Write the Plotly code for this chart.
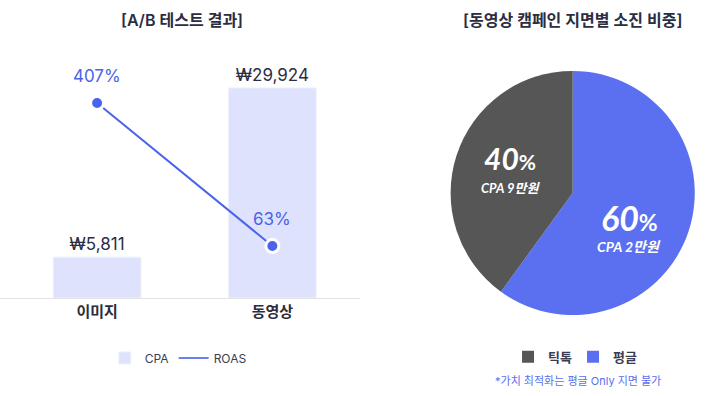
import plotly.graph_objects as go

categories = ["이미지", "동영상"]
cpa_values = [5811, 29924]
roas_values = [407, 63]
pie_labels = ["틱톡", "평글"]
pie_values = [40, 60]
pie_cpa = ["CPA 9만원", "CPA 2만원"]
pie_colors = ["#565656", "#5b70f0"]

FONT = "Inter, Noto Sans CJK KR, sans-serif"
DARK = "#2b2d42"
BLUE = "#4a63ea"

fig = go.Figure()

fig.add_trace(go.Bar(
    x=categories, y=cpa_values, name="CPA",
    marker=dict(color="#dfe2fc", line=dict(color="#eef0fe", width=1)),
    width=0.5,
    text=[f"₩{v:,}" for v in cpa_values], textposition="outside",
    textfont=dict(size=17, color=DARK, family=FONT),
    cliponaxis=False, legend="legend",
))

fig.add_trace(go.Scatter(
    x=categories, y=roas_values, name="ROAS", yaxis="y2",
    mode="lines+markers",
    line=dict(color=BLUE, width=2),
    marker=dict(size=13, color=BLUE, line=dict(color="white", width=3)),
    cliponaxis=False, showlegend=False,
))
# legend-only line entry for ROAS
fig.add_trace(go.Scatter(
    x=[None], y=[None], name="ROAS", yaxis="y2", mode="lines",
    line=dict(color="#6b7ff5", width=2), legend="legend",
))

for c, v in zip(categories, roas_values):
    fig.add_annotation(x=c, y=v, xref="x", yref="y2", yshift=27, showarrow=False,
                       text=f"{v}%", xanchor="center", yanchor="middle",
                       font=dict(size=17, color=BLUE, family=FONT))

# draw slices so that 평글 runs clockwise from 12 o'clock
fig.add_trace(go.Pie(
    labels=pie_labels[::-1], values=pie_values[::-1], sort=False,
    direction="clockwise", rotation=0,
    marker=dict(colors=pie_colors[::-1], line=dict(width=0)),
    textinfo="none", hoverinfo="label+percent",
    domain=dict(x=[0.626, 0.967], y=[0.2045, 0.821]),
    legend="legend2",
))

# pie labels
pie_pos = [(0.71, 0.60), (0.875, 0.452)]
pie_sizes = [30, 34]
for (px, py), v, c, s in zip(pie_pos, pie_values, pie_cpa, pie_sizes):
    fig.add_annotation(
        x=px, y=py, xref="paper", yref="paper", showarrow=False,
        xanchor="center", yanchor="middle",
        text=f"<b><i>{v}</i></b><span style='font-size:{int(s*0.7)}px'><b>%</b></span>",
        font=dict(size=s, color="white", family="Lato, Inter, sans-serif"),
    )
    fig.add_annotation(
        x=px, y=py - 0.075, xref="paper", yref="paper", showarrow=False,
        xanchor="center", yanchor="middle",
        text=f"<b><i>{c}</i></b>",
        font=dict(size=14 if v == 60 else 13, color="white", family="Lato, Noto Sans CJK KR, sans-serif"),
    )

# titles
for tx, t in [(0.253, "[A/B 테스트 결과]"), (0.796, "[동영상 캠페인 지면별 소진 비중]")]:
    fig.add_annotation(x=tx, y=0.949, xref="paper", yref="paper", showarrow=False,
                       xanchor="center", yanchor="middle",
                       text=t, font=dict(size=16, color=DARK, family=FONT, weight=600))

fig.add_annotation(x=0.804, y=0.038, xref="paper", yref="paper", showarrow=False,
                   xanchor="center", yanchor="middle",
                   text="*가치 최적화는 평글 Only 지면 불가",
                   font=dict(size=11, color="#5b6ef0", family=FONT))

fig.update_layout(
    width=719, height=396,
    margin=dict(l=0, r=0, t=0, b=0),
    paper_bgcolor="white", plot_bgcolor="white",
    font=dict(family=FONT, color=DARK),
    showlegend=True,
    xaxis=dict(domain=[0, 0.5007], range=[-0.554, 1.5], showgrid=False,
               showline=True, linecolor="#e3e3e3", linewidth=1,
               tickfont=dict(size=15, color=DARK, family=FONT, weight=600), ticks=""),
    yaxis=dict(domain=[0.2475, 0.899], range=[0, 36764], visible=False, showgrid=False),
    yaxis2=dict(overlaying="y", range=[-62.1, 558.6], visible=False, showgrid=False),
    legend=dict(orientation="h", x=0.248, y=0.096, xanchor="center", yanchor="middle",
                font=dict(size=12, color="#3a3c50", family=FONT)),
    legend2=dict(orientation="h", x=0.797, y=0.099, xanchor="center", yanchor="middle",
                 font=dict(size=13, color="#3a3c50", family=FONT, weight=600),
                 itemwidth=30, entrywidth=20, traceorder="reversed"),
)

fig.write_html("out.html")
